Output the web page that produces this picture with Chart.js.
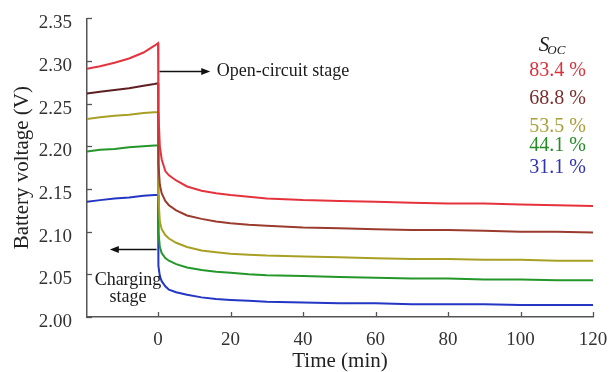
<!DOCTYPE html>
<html><head><meta charset="utf-8">
<script src="https://cdn.jsdelivr.net/npm/chart.js@4.4.1/dist/chart.umd.min.js"></script>
<style>html,body{margin:0;padding:0;background:#fff}canvas{display:block}</style>
</head><body>
<canvas id="c" width="614" height="372"></canvas>
<script>
// ---- data ----
const chargeTime = [-19.6, -16, -12, -8, -4, -1];
const restTime = [0, 0.1, 0.5, 1, 2, 3, 5, 8, 12, 16, 20, 25, 30, 40, 50, 60, 70, 80, 90, 100, 110, 120];
const xTickValues = [0, 20, 40, 60, 80, 100, 120];
const yTickValues = [2.00, 2.05, 2.10, 2.15, 2.20, 2.25, 2.30, 2.35];
const socLabels = ['83.4 %', '68.8 %', '53.5 %', '44.1 %', '31.1 %'];

const soc834Charge = [2.291, 2.294, 2.298, 2.303, 2.310, 2.318];
const soc834Rest = [2.321, 2.240, 2.200, 2.185, 2.171, 2.166, 2.160, 2.153, 2.148, 2.145, 2.143, 2.141, 2.139, 2.137, 2.136, 2.135, 2.134, 2.133, 2.133, 2.132, 2.131, 2.130];
const soc688Charge = [2.262, 2.264, 2.266, 2.268, 2.271, 2.273];
const soc688Rest = [2.274, 2.180, 2.155, 2.145, 2.136, 2.131, 2.125, 2.119, 2.115, 2.112, 2.110, 2.108, 2.107, 2.105, 2.104, 2.103, 2.102, 2.102, 2.101, 2.100, 2.100, 2.099];
const soc535Charge = [2.232, 2.234, 2.236, 2.237, 2.239, 2.240];
const soc535Rest = [2.240, 2.140, 2.112, 2.103, 2.096, 2.092, 2.087, 2.082, 2.078, 2.076, 2.074, 2.073, 2.072, 2.071, 2.070, 2.069, 2.068, 2.068, 2.067, 2.067, 2.066, 2.066];
const soc441Charge = [2.194, 2.196, 2.197, 2.199, 2.200, 2.201];
const soc441Rest = [2.201, 2.100, 2.082, 2.075, 2.069, 2.066, 2.062, 2.058, 2.055, 2.053, 2.052, 2.050, 2.049, 2.048, 2.047, 2.046, 2.045, 2.045, 2.044, 2.044, 2.043, 2.043];
const soc311Charge = [2.135, 2.137, 2.139, 2.140, 2.142, 2.143];
const soc311Rest = [2.143, 2.060, 2.048, 2.042, 2.036, 2.032, 2.029, 2.026, 2.023, 2.021, 2.020, 2.019, 2.018, 2.017, 2.016, 2.016, 2.015, 2.015, 2.015, 2.014, 2.014, 2.014];

// ---- styles ----
const lineColors = ['#e5333d', '#9b3b2e', '#a8a024', '#24962a', '#2436c4'];
const chargeColors = ['#e5333d', '#5e1e22', '#a8a024', '#24962a', '#2436c4'];
const labelColors = ['#d8323c', '#7a2e2e', '#a8a03a', '#2a8a2a', '#3034b0'];
const serif = '"Liberation Serif", "Times New Roman", serif';

function pts(t, v) { return t.map((x, i) => ({ x: x, y: v[i] })); }
const seriesCharge = [soc834Charge, soc688Charge, soc535Charge, soc441Charge, soc311Charge];
const seriesRest = [soc834Rest, soc688Rest, soc535Rest, soc441Rest, soc311Rest];

const datasets = seriesRest.map((rest, i) => ({
  label: socLabels[i],
  data: pts(chargeTime, seriesCharge[i]).concat(pts(restTime, rest)),
  borderColor: lineColors[i],
  borderWidth: 2,
  pointRadius: 0,
  fill: false,
  tension: 0,
  segment: { borderColor: ctx => ctx.p1.parsed.x <= 0 && ctx.p0.parsed.x < 0 ? chargeColors[i] : lineColors[i] }
}));

const decor = {
  id: 'decor',
  afterDraw(chart) {
    const ctx = chart.ctx, xs = chart.scales.x, ys = chart.scales.y, a = chart.chartArea;
    ctx.save();
    // inward ticks
    ctx.strokeStyle = '#555'; ctx.lineWidth = 1.3;
    ys.ticks.forEach(t => {
      const p = Math.round(ys.getPixelForValue(t.value)) + 0.5;
      ctx.beginPath(); ctx.moveTo(a.left, p); ctx.lineTo(a.left + 5, p); ctx.stroke();
    });
    xs.ticks.forEach(t => {
      const p = Math.round(xs.getPixelForValue(t.value)) + 0.5;
      ctx.beginPath(); ctx.moveTo(p, a.bottom); ctx.lineTo(p, a.bottom - 5); ctx.stroke();
    });
    // arrows
    function arrow(x1, x2, y) {
      ctx.strokeStyle = '#111'; ctx.fillStyle = '#111'; ctx.lineWidth = 1.6;
      const dir = Math.sign(x2 - x1);
      ctx.beginPath(); ctx.moveTo(x1, y); ctx.lineTo(x2 - dir * 7, y); ctx.stroke();
      ctx.beginPath(); ctx.moveTo(x2, y); ctx.lineTo(x2 - dir * 9, y - 3.5); ctx.lineTo(x2 - dir * 9, y + 3.5); ctx.closePath(); ctx.fill();
    }
    const yOpen = Math.round(ys.getPixelForValue(2.288)) + 0.5;
    arrow(xs.getPixelForValue(0.4), xs.getPixelForValue(14.4), yOpen);
    const yChg = Math.round(ys.getPixelForValue(2.0796)) + 0.5;
    arrow(xs.getPixelForValue(-0.4), xs.getPixelForValue(-13.3), yChg);
    ctx.fillStyle = '#1a1a1a';
    ctx.font = '18px ' + serif; ctx.textBaseline = 'middle'; ctx.textAlign = 'left';
    ctx.fillText('Open-circuit stage', xs.getPixelForValue(16.2), yOpen);
    ctx.textAlign = 'center';
    ctx.fillText('Charging', xs.getPixelForValue(-8.3), ys.getPixelForValue(2.0433));
    ctx.fillText('stage', xs.getPixelForValue(-8.3), ys.getPixelForValue(2.0235));
    // SOC legend
    ctx.textAlign = 'left';
    const lx = xs.getPixelForValue(102.4);
    ctx.font = 'italic 21px ' + serif; ctx.fillStyle = '#222';
    ctx.fillText('S', xs.getPixelForValue(105.0), ys.getPixelForValue(2.3185));
    ctx.font = 'italic 13px ' + serif;
    ctx.fillText('OC', xs.getPixelForValue(107.4), ys.getPixelForValue(2.3128));
    const ly = [2.2892, 2.2564, 2.2225, 2.2002, 2.1745];
    ctx.font = '20px ' + serif;
    socLabels.forEach((s, i) => { ctx.fillStyle = labelColors[i]; ctx.fillText(s, lx, ys.getPixelForValue(ly[i])); });
    ctx.restore();
  }
};

new Chart(document.getElementById('c'), {
  type: 'line',
  data: { datasets: datasets },
  options: {
    responsive: false, animation: false,
    layout: { padding: { top: 18, right: 21, left: 0, bottom: 0 } },
    plugins: { legend: { display: false }, tooltip: { enabled: false } },
    scales: {
      x: {
        type: 'linear', min: -19.6, max: 120,
        afterFit(s) { s.height = 55; },
        afterBuildTicks(s) { s.ticks = xTickValues.map(v => ({ value: v })); },
        grid: { display: false },
        border: { display: true, color: '#555', width: 1.5 },
        ticks: { color: '#333', font: { family: serif, size: 19 }, padding: 4, maxRotation: 0, autoSkip: false },
        title: { display: true, text: 'Time (min)', color: '#222', font: { family: serif, size: 21, lineHeight: 1 }, padding: { top: 0, bottom: 0 } }
      },
      y: {
        type: 'linear', min: 2.0, max: 2.35,
        afterFit(s) { s.width = 87; },
        afterBuildTicks(s) { s.ticks = yTickValues.map(v => ({ value: v })); },
        grid: { display: false },
        border: { display: true, color: '#555', width: 1.5 },
        ticks: { color: '#333', font: { family: serif, size: 19 }, padding: 7, labelOffset: 5, callback: v => v.toFixed(2) },
        title: { display: true, text: 'Battery voltage (V)', color: '#222', font: { family: serif, size: 21 }, padding: { top: 10, bottom: 0 } }
      }
    }
  },
  plugins: [decor]
});
</script>
</body></html>
